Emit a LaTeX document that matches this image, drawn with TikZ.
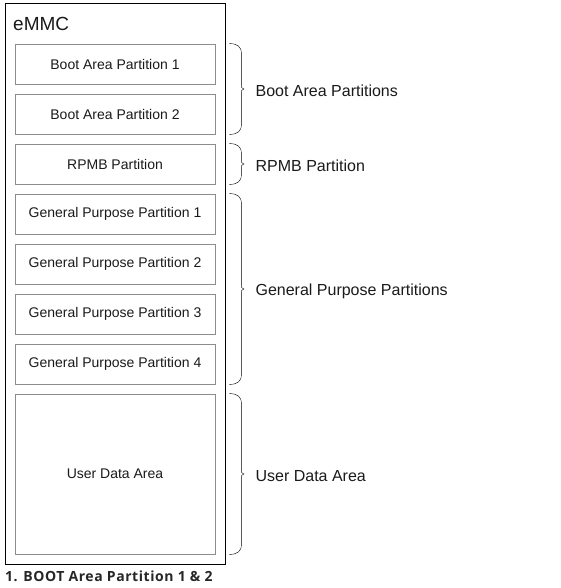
\documentclass[tikz,border=0pt]{standalone}
\usepackage{fontspec}
\setmainfont{Liberation Sans}
\newfontfamily\capfont[LetterSpace=4]{Open Sans}
\usepackage{xcolor}
\usetikzlibrary{calc}
\definecolor{boxgray}{HTML}{8C8C8C}
\definecolor{bracegray}{HTML}{555555}
\definecolor{inkgray}{HTML}{1A1A1A}
\definecolor{capgray}{HTML}{262626}
\tikzset{part box/.style={draw=boxgray, line width=0.8pt, minimum width=200pt, minimum height=40pt, inner sep=0, text=inkgray, font=\fontsize{14}{16}\selectfont}}
\tikzset{outer box/.style={draw=black, line width=1pt, minimum width=220pt, minimum height=560pt, inner sep=0}}
\tikzset{curly/.style={draw=bracegray, line width=0.8pt, to path={
  let \p1=(\tikztostart), \p2=(\tikztotarget), \n1={0.5*(\y1+\y2)} in
  (\p1) .. controls (\x1+8pt,\y1) and (\x1+12pt,\y1-3pt) .. (\x1+12pt,\y1-10pt)
  -- (\x1+12pt,\n1+5pt) .. controls (\x1+12pt,\n1+1pt) .. (\x1+14.5pt,\n1)
  .. controls (\x1+12pt,\n1-1pt) .. (\x1+12pt,\n1-5pt)
  -- (\x1+12pt,\y2+10pt) .. controls (\x1+12pt,\y2+3pt) and (\x1+8pt,\y2) .. (\p2)}}}
\tikzset{side label/.style={right, inner sep=0, yshift=-2pt, text=inkgray, font=\fontsize{16}{18}\selectfont}}

\begin{document}
\begin{tikzpicture}[x=1pt, y=-1pt]
  \useasboundingbox (0, 0) rectangle (560, 588);
  \node[outer box] at (115, 284) (emmc) {};
  \node[anchor=base west, inner sep=0, text=inkgray, font=\fontsize{19}{21}\selectfont] at (13, 31) (title) {eMMC};

  \node[part box] at (115, 64) (boot1) {Boot Area Partition 1};
  \node[part box] at (115, 114) (boot2) {Boot Area Partition 2};
  \node[part box] at (115, 164) (rpmb) {RPMB Partition};
  \node[part box] at (115, 214) (gp1) {General Purpose Partition 1};
  \node[part box] at (115, 264) (gp2) {General Purpose Partition 2};
  \node[part box] at (115, 314) (gp3) {General Purpose Partition 3};
  \node[part box] at (115, 364) (gp4) {General Purpose Partition 4};
  \node[part box, minimum height=160pt] at (115, 474) (user) {User Data Area};

    \draw ([xshift=14pt]boot1.north east) to[curly] ([xshift=14pt]boot2.south east);
    \draw ([xshift=14pt]rpmb.north east) to[curly] ([xshift=14pt]rpmb.south east);
    \draw ([xshift=14pt]gp1.north east) to[curly] ([xshift=14pt]gp4.south east);
    \draw ([xshift=14pt]user.north east) to[curly] ([xshift=14pt]user.south east);

    \node[side label] at ($(boot1.north east)!0.5!(boot2.south east)+(40,0)$) (bootlabel) {Boot Area Partitions};
    \node[side label] at ($(rpmb.north east)!0.5!(rpmb.south east)+(40,0)$) (rpmblabel) {RPMB Partition};
    \node[side label] at ($(gp1.north east)!0.5!(gp4.south east)+(40,0)$) (gplabel) {General Purpose Partitions};
    \node[side label] at ($(user.north east)!0.5!(user.south east)+(40,0)$) (userlabel) {User Data Area};

  \node[anchor=base west, inner sep=0, text=capgray, font=\capfont\bfseries\fontsize{14}{16}\selectfont] at (5, 581) (caption) {1. BOOT Area Partition 1 \& 2};
\end{tikzpicture}
\end{document}
